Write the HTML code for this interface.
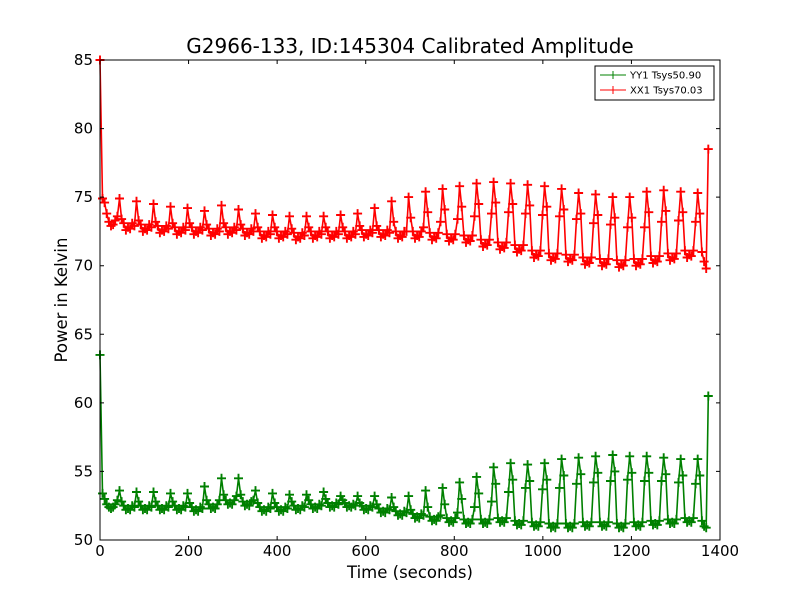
<!DOCTYPE html>
<html><head><meta charset="utf-8"><style>
body{margin:0;background:#fff}
svg text{font-family:"DejaVu Sans","Liberation Sans",sans-serif}
</style></head><body>
<svg id="chart" width="800" height="600" xmlns="http://www.w3.org/2000/svg">
<rect width="800" height="600" fill="#fff"/>
<text x="410" y="53" font-size="20" text-anchor="middle">G2966-133, ID:145304 Calibrated Amplitude</text>
<text x="410" y="578" font-size="16.5" text-anchor="middle">Time (seconds)</text>
<text transform="translate(67,300) rotate(-90)" font-size="16.5" text-anchor="middle">Power in Kelvin</text>
<g id="plot"></g>
<rect x="100" y="60" width="620" height="480" fill="none" stroke="#000" stroke-width="1"/>
<g id="ticks"></g>
<g>
<rect x="595" y="66" width="119" height="34" fill="#fff" stroke="#000" stroke-width="1"/>
<g>
<line x1="600" y1="75" x2="626" y2="75" stroke="#008000"/><path d="M609 75h8M613 71v8" stroke="#008000"/>
<text x="630" y="78.5" font-size="10">YY1 Tsys50.90</text></g>
<g>
<line x1="600" y1="90" x2="626" y2="90" stroke="#ff0000"/><path d="M609 90h8M613 86v8" stroke="#ff0000"/>
<text x="630" y="93.5" font-size="10">XX1 Tsys70.03</text></g>
</g>
</svg>
<script>
const xTicks=[0,200,400,600,800,1000,1200,1400];
const yTicks=[50,55,60,65,70,75,80,85];
const timeStart=5.6, timeStep=4.8;
const redValues=[85.0,
74.9,74.6,73.8,73.2,72.9,73.0,73.3,73.6,
74.9,73.4,73.1,72.6,72.8,72.7,73.1,72.9,
74.7,73.3,73.0,72.5,72.7,72.6,73.0,72.8,
74.5,73.2,72.9,72.4,72.6,72.5,72.9,72.7,
74.3,73.1,72.8,72.3,72.5,72.4,72.8,72.6,
74.2,73.1,72.8,72.3,72.5,72.4,72.8,72.6,
74.0,73.0,72.7,72.2,72.4,72.3,72.7,72.5,
74.4,73.1,72.8,72.3,72.5,72.4,72.8,72.6,
74.1,73.0,72.7,72.2,72.4,72.3,72.7,72.5,
73.8,72.8,72.5,72.0,72.2,72.1,72.5,72.3,
73.7,72.8,72.5,72.0,72.2,72.1,72.5,72.3,
73.6,72.7,72.4,71.9,72.1,72.0,72.4,72.2,
73.6,72.8,72.5,72.0,72.2,72.1,72.5,72.3,
73.6,72.8,72.5,72.0,72.2,72.1,72.5,72.3,
73.7,72.8,72.5,72.0,72.2,72.1,72.5,72.3,
73.8,72.9,72.6,72.1,72.3,72.2,72.6,72.4,
74.2,72.9,72.6,72.1,72.3,72.2,72.6,72.4,
74.7,73.2,72.5,72.0,72.2,72.1,72.5,72.5,
75.0,73.5,72.5,72.0,72.2,72.1,72.5,72.8,
75.4,73.9,72.4,71.9,72.1,72.0,72.4,73.2,
75.6,74.1,72.3,71.8,72.0,71.9,72.3,73.4,
75.8,74.3,72.2,71.7,71.9,71.8,72.2,73.6,
76.0,74.5,71.9,71.4,71.6,71.5,71.9,73.8,
76.1,74.6,71.7,71.2,71.4,71.3,71.7,73.9,
76.0,74.5,71.5,71.0,71.2,71.1,71.5,73.8,
75.9,74.4,71.1,70.6,70.8,70.7,71.1,73.7,
75.8,74.3,70.9,70.4,70.6,70.5,70.9,73.6,
75.6,74.1,70.8,70.3,70.5,70.4,70.8,73.4,
75.3,73.8,70.6,70.1,70.3,70.2,70.6,73.1,
75.2,73.7,70.5,70.0,70.2,70.1,70.5,73.0,
75.0,73.5,70.4,69.9,70.1,70.0,70.4,72.8,
75.0,73.5,70.5,70.0,70.2,70.1,70.5,72.8,
75.4,73.9,70.7,70.2,70.4,70.3,70.7,73.2,
75.5,74.0,70.9,70.4,70.6,70.5,70.9,73.3,
75.4,73.9,71.1,70.6,70.8,70.7,71.1,73.2,
75.3,73.8,71.0,70.3,69.8,78.5];
const greenValues=[63.5,
53.4,53.0,52.6,52.4,52.3,52.4,52.6,52.9,
53.6,52.8,52.5,52.2,52.3,52.2,52.5,52.4,
53.5,52.8,52.5,52.2,52.3,52.2,52.5,52.4,
53.5,52.8,52.5,52.2,52.3,52.2,52.5,52.4,
53.4,52.8,52.5,52.2,52.3,52.2,52.5,52.4,
53.4,52.7,52.4,52.1,52.2,52.1,52.4,52.3,
53.9,52.9,52.6,52.3,52.4,52.3,52.6,52.9,
54.5,53.3,52.9,52.6,52.7,52.6,52.9,53.2,
54.5,53.3,52.8,52.5,52.6,52.5,52.8,52.9,
53.6,52.7,52.4,52.1,52.2,52.1,52.4,52.3,
53.4,52.7,52.4,52.1,52.2,52.1,52.4,52.3,
53.3,52.8,52.5,52.2,52.3,52.2,52.5,52.4,
53.3,52.9,52.6,52.3,52.4,52.3,52.6,52.5,
53.5,53.0,52.7,52.4,52.5,52.4,52.7,52.6,
53.2,52.9,52.7,52.4,52.5,52.4,52.6,52.5,
53.2,52.7,52.5,52.2,52.3,52.2,52.5,52.4,
53.2,52.6,52.3,52.0,52.1,52.0,52.3,52.2,
53.1,52.4,52.1,51.8,51.9,51.8,52.1,52.0,
53.2,52.2,51.9,51.6,51.7,51.6,51.9,51.8,
53.6,52.4,51.7,51.4,51.5,51.4,51.7,51.8,
53.8,52.6,51.6,51.3,51.4,51.3,51.6,52.0,
54.2,53.0,51.5,51.2,51.3,51.2,51.5,52.4,
54.6,53.4,51.5,51.2,51.3,51.2,51.5,52.8,
55.3,54.1,51.6,51.3,51.4,51.3,51.6,53.5,
55.6,54.4,51.4,51.1,51.2,51.1,51.4,53.8,
55.5,54.3,51.3,51.0,51.1,51.0,51.3,53.7,
55.6,54.4,51.2,50.9,51.0,50.9,51.2,53.8,
55.9,54.7,51.2,50.9,51.0,50.9,51.2,54.1,
56.0,54.8,51.3,51.0,51.1,51.0,51.3,54.2,
56.1,54.9,51.3,51.0,51.1,51.0,51.3,54.3,
56.2,55.0,51.2,50.9,51.0,50.9,51.2,54.4,
56.1,54.9,51.3,51.0,51.1,51.0,51.3,54.3,
56.1,54.9,51.4,51.1,51.2,51.1,51.4,54.3,
56.0,54.8,51.5,51.2,51.3,51.2,51.5,54.2,
55.9,54.7,51.6,51.3,51.4,51.3,51.6,54.1,
55.9,54.7,51.4,51.0,50.9,60.5];
const X=t=>100+t/1400*620, Y=v=>540-(v-50)/35*480;
const NS='http://www.w3.org/2000/svg';
const timeAt=i=>i===0?0:timeStart+timeStep*(i-1);
function series(vals,color,name){
  const g=document.createElementNS(NS,'g');
  
  
  let d='',m='';
  vals.forEach((v,i)=>{const x=X(timeAt(i)),y=Y(v);d+=(i?'L':'M')+x.toFixed(1)+' '+y.toFixed(1);
    m+='M'+(x-4.5).toFixed(1)+' '+y.toFixed(1)+'h9M'+x.toFixed(1)+' '+(y-4.5).toFixed(1)+'v9';});
  const l=document.createElementNS(NS,'path');l.setAttribute('d',d);l.setAttribute('fill','none');l.setAttribute('stroke',color);l.setAttribute('stroke-width','1.6');
  
  
  const mk=document.createElementNS(NS,'path');mk.setAttribute('d',m);mk.setAttribute('stroke',color);mk.setAttribute('stroke-width','1.9');
  
  
  g.appendChild(l);g.appendChild(mk);document.getElementById('plot').appendChild(g);
}
series(greenValues,'#008000','series-yy1');
series(redValues,'#ff0000','series-xx1');
const tk=document.getElementById('ticks');
xTicks.forEach(t=>{const x=X(t);
  const p=document.createElementNS(NS,'path');p.setAttribute('d',`M${x} 540v-4M${x} 60v4`);p.setAttribute('stroke','#000');
  
  
  tk.appendChild(p);
  const tx=document.createElementNS(NS,'text');tx.setAttribute('x',x);tx.setAttribute('y',556);tx.setAttribute('font-size','15');tx.setAttribute('text-anchor','middle');tx.textContent=t;
  
  
  tk.appendChild(tx);});
yTicks.forEach(v=>{const y=Y(v);
  const p=document.createElementNS(NS,'path');p.setAttribute('d',`M100 ${y}h4M720 ${y}h-4`);p.setAttribute('stroke','#000');
  
  
  tk.appendChild(p);
  const tx=document.createElementNS(NS,'text');tx.setAttribute('x',93);tx.setAttribute('y',y+5);tx.setAttribute('font-size','15');tx.setAttribute('text-anchor','end');tx.textContent=v;
  
  
  tk.appendChild(tx);});
</script>
</body></html>
